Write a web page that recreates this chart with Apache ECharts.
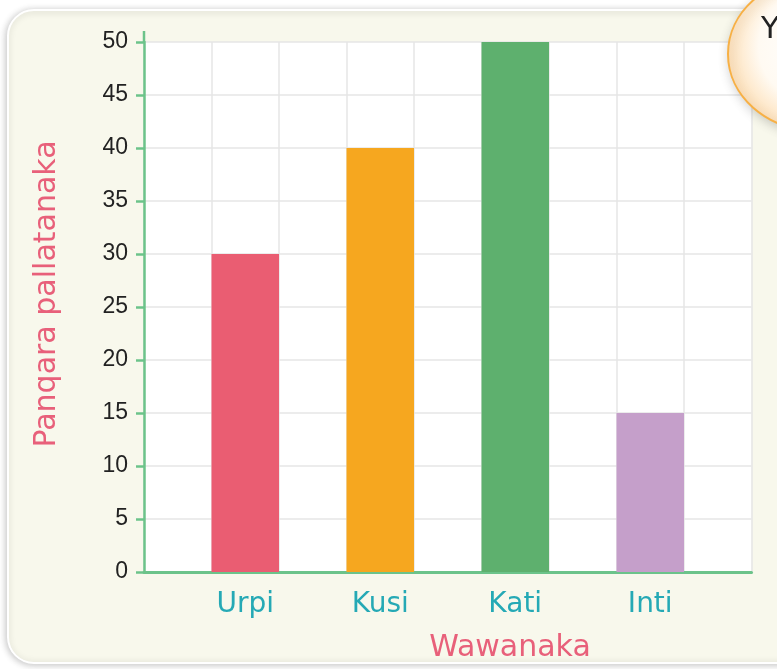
<!DOCTYPE html>
<html>
<head>
<meta charset="utf-8">
<script src="https://cdn.jsdelivr.net/npm/echarts@6/dist/echarts.min.js"></script>
<style>
  html, body { margin: 0; padding: 0; background: #ffffff; }
  #chart { width: 777px; height: 669px; }
</style>
</head>
<body>
<div id="chart"></div>
<script>
// Bar chart data
const categories = ['Urpi', 'Kusi', 'Kati', 'Inti'];
const values = [30, 40, 50, 15];
const barColors = ['#ea5d72', '#f6a71f', '#5eb06e', '#c59fca'];
const yTicks = { min: 0, max: 50, step: 5 };
const xTitle = 'Wawanaka';
const yTitle = 'Panqara pallatanaka';
const bubbleText = 'Y';

const FONT = '"DejaVu Sans", sans-serif';
const NUM_FONT = '"Liberation Sans", Arial, sans-serif';

// Each category sits between empty half-width slots so the grid shows
// a vertical line at every bar edge.
const slots = [];
const slotData = [];
categories.forEach((c, i) => {
  slots.push('');
  slotData.push('-');
  slots.push(c);
  slotData.push({ value: values[i], itemStyle: { color: barColors[i] } });
});
slots.push('');
slotData.push('-');

const chart = echarts.init(document.getElementById('chart'), null, { renderer: 'canvas' });

const gridLeft = 144, gridTop = 42, gridRight = 25.5, gridBottom = 97;

chart.setOption({
  animation: false,
  backgroundColor: '#ffffff',
  grid: {
    left: gridLeft, top: gridTop, right: gridRight, bottom: gridBottom,
    show: true, backgroundColor: '#ffffff', borderWidth: 0
  },
  xAxis: {
    type: 'category',
    data: slots,
    axisLine: { show: true, lineStyle: { color: '#6cc38a', width: 3 } },
    axisTick: { show: false },
    axisLabel: {
      interval: 0, color: '#25a9b5', fontFamily: FONT, fontSize: 28, margin: 19
    },
    splitLine: { show: true, interval: 0, lineStyle: { color: '#e6e6e6', width: 1.5 } }
  },
  yAxis: {
    type: 'value',
    min: yTicks.min, max: yTicks.max, interval: yTicks.step,
    axisLine: { show: true, lineStyle: { color: '#6cc38a', width: 2.5 } },
    axisTick: { show: true, length: 8, lineStyle: { color: '#6cc38a', width: 2.5 } },
    axisLabel: { color: '#222222', fontFamily: NUM_FONT, fontSize: 23, margin: 16 },
    splitLine: { show: true, lineStyle: { color: '#e6e6e6', width: 1.5 } }
  },
  series: [{
    type: 'bar',
    data: slotData,
    barCategoryGap: '0%',
    barWidth: '100%'
  }],
  graphic: [
    {
      // background panel
      type: 'rect', z: -100, silent: true,
      shape: { x: 8, y: 10, width: 800, height: 653, r: 26 },
      style: {
        fill: '#f8f8ec', stroke: '#ffffff', lineWidth: 2,
        shadowBlur: 7, shadowColor: 'rgba(0,0,0,0.22)', shadowOffsetX: -1, shadowOffsetY: 1
      }
    },
    {
      // y axis line continues a little above the top gridline
      type: 'line', z: 10, silent: true,
      shape: { x1: gridLeft, y1: 31, x2: gridLeft, y2: gridTop },
      style: { stroke: '#6cc38a', lineWidth: 2.5 }
    },
    {
      type: 'text', z: 10, silent: true,
      x: 510, y: 648,
      style: {
        text: xTitle, fill: '#e8607a', font: '30px ' + FONT,
        textAlign: 'center', textVerticalAlign: 'middle'
      }
    },
    {
      type: 'text', z: 10, silent: true,
      x: 47, y: 294, rotation: Math.PI / 2,
      style: {
        text: yTitle, fill: '#e8607a', font: '30px ' + FONT,
        textAlign: 'center', textVerticalAlign: 'middle'
      }
    },
    {
      // speech bubble in the corner
      type: 'ellipse', z: 100, silent: true,
      shape: { cx: 814, cy: 54, rx: 86, ry: 76 },
      style: {
        fill: new echarts.graphic.RadialGradient(0.5, 0.45, 0.6, [
          { offset: 0, color: '#ffffff' },
          { offset: 0.6, color: '#fffaf2' },
          { offset: 1, color: '#fddcb0' }
        ]),
        stroke: '#f7b045', lineWidth: 2,
        shadowBlur: 12, shadowColor: 'rgba(0,0,0,0.2)', shadowOffsetX: 2, shadowOffsetY: 3
      }
    },
    {
      type: 'text', z: 101, silent: true,
      x: 761, y: 30,
      style: {
        text: bubbleText, fill: '#222222', font: '30px ' + FONT,
        textAlign: 'left', textVerticalAlign: 'middle'
      }
    }
  ]
});
</script>
</body>
</html>
